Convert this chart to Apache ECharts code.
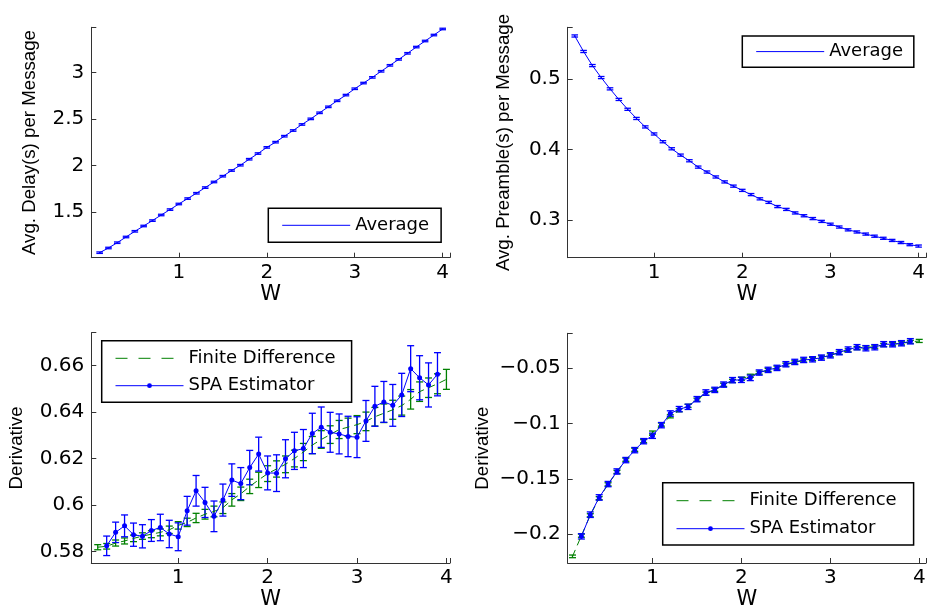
<!DOCTYPE html>
<html>
<head>
<meta charset="utf-8">
<script src="https://cdn.jsdelivr.net/npm/echarts@6/dist/echarts.min.js"></script>
<style>
  html, body { margin: 0; padding: 0; background: #fff; }
  #main { width: 929px; height: 611px; }
</style>
</head>
<body>
<div id="main"></div>
<script>
// W values of the simulation grid
const wAll = [0.1, 0.2, 0.3, 0.4, 0.5, 0.6, 0.7, 0.8, 0.9, 1.0,
              1.1, 1.2, 1.3, 1.4, 1.5, 1.6, 1.7, 1.8, 1.9, 2.0,
              2.1, 2.2, 2.3, 2.4, 2.5, 2.6, 2.7, 2.8, 2.9, 3.0,
              3.1, 3.2, 3.3, 3.4, 3.5, 3.6, 3.7, 3.8, 3.9, 4.0];
const wSpa = wAll.slice(1, 39); // 0.2 .. 3.9

// top left: average delay
const delayAvg = [1.067, 1.117, 1.174, 1.235, 1.296, 1.353, 1.411, 1.471, 1.529, 1.589,
                  1.647, 1.704, 1.765, 1.825, 1.887, 1.948, 2.005, 2.069, 2.130, 2.196,
                  2.252, 2.316, 2.377, 2.442, 2.502, 2.567, 2.631, 2.696, 2.757, 2.825,
                  2.886, 2.947, 3.012, 3.076, 3.140, 3.205, 3.272, 3.337, 3.401, 3.466];
const delayErr = [0.008, 0.008, 0.008, 0.008, 0.008, 0.008, 0.008, 0.008, 0.008, 0.008,
                  0.008, 0.008, 0.008, 0.008, 0.008, 0.008, 0.008, 0.008, 0.008, 0.008,
                  0.008, 0.008, 0.008, 0.008, 0.008, 0.008, 0.008, 0.008, 0.008, 0.008,
                  0.008, 0.008, 0.008, 0.008, 0.008, 0.008, 0.008, 0.008, 0.008, 0.008];

// top right: average preamble
const preAvg = [0.561, 0.539, 0.519, 0.502, 0.486, 0.471, 0.457, 0.444, 0.432, 0.422,
                0.411, 0.401, 0.392, 0.384, 0.375, 0.368, 0.361, 0.354, 0.348, 0.342,
                0.336, 0.330, 0.325, 0.319, 0.315, 0.310, 0.306, 0.302, 0.298, 0.294,
                0.290, 0.286, 0.283, 0.280, 0.277, 0.274, 0.271, 0.268, 0.265, 0.263];
const preErr = [0.0015, 0.0015, 0.0015, 0.0015, 0.0015, 0.0015, 0.0015, 0.0015, 0.0015, 0.0015,
                0.0015, 0.0015, 0.0015, 0.0015, 0.0015, 0.0015, 0.0015, 0.0015, 0.0015, 0.0015,
                0.0015, 0.0015, 0.0015, 0.0015, 0.0015, 0.0015, 0.0015, 0.0015, 0.0015, 0.0015,
                0.0015, 0.0015, 0.0015, 0.0015, 0.0015, 0.0015, 0.0015, 0.0015, 0.0015, 0.0015];

// bottom left: derivative of delay
const fdDelay = [0.5818, 0.5822, 0.5836, 0.5845, 0.5856, 0.5866, 0.5874, 0.5882, 0.5893, 0.5912,
                 0.5925, 0.5944, 0.5960, 0.5972, 0.5988, 0.6022, 0.6048, 0.6080, 0.6108, 0.6135,
                 0.6155, 0.6175, 0.6200, 0.6228, 0.6258, 0.6282, 0.6303, 0.6325, 0.6335, 0.6346,
                 0.6360, 0.6380, 0.6395, 0.6410, 0.6428, 0.6455, 0.6488, 0.6505, 0.6522, 0.6541];
const fdDelayErr = [0.0011, 0.0012, 0.0013, 0.0013, 0.0014, 0.0014, 0.0015, 0.0015, 0.0016, 0.0016,
                    0.0018, 0.0020, 0.0021, 0.0023, 0.0025, 0.0027, 0.0029, 0.0031, 0.0033, 0.0034,
                    0.0035, 0.0036, 0.0036, 0.0037, 0.0037, 0.0038, 0.0038, 0.0039, 0.0039, 0.0039,
                    0.0040, 0.0040, 0.0040, 0.0041, 0.0041, 0.0042, 0.0042, 0.0042, 0.0043, 0.0043];
const spaDelay = [0.5824, 0.5882, 0.5910, 0.5872, 0.5865, 0.5890, 0.5903, 0.5875, 0.5863, 0.5975,
                  0.6061, 0.6011, 0.5951, 0.6021, 0.6107, 0.6092, 0.6161, 0.6219, 0.6138, 0.6137,
                  0.6199, 0.6233, 0.6243, 0.6308, 0.6335, 0.6313, 0.6306, 0.6295, 0.6292, 0.6362,
                  0.6425, 0.6444, 0.6429, 0.6474, 0.6587, 0.6548, 0.6517, 0.6563];
const spaDelayErr = [0.0042, 0.0044, 0.0047, 0.0050, 0.0050, 0.0047, 0.0057, 0.0059, 0.0060, 0.0062,
                     0.0066, 0.0065, 0.0066, 0.0069, 0.0070, 0.0069, 0.0074, 0.0073, 0.0073, 0.0079,
                     0.0082, 0.0080, 0.0082, 0.0087, 0.0087, 0.0086, 0.0086, 0.0087, 0.0088, 0.0088,
                     0.0086, 0.0088, 0.0090, 0.0093, 0.0099, 0.0095, 0.0095, 0.0093];

// bottom right: derivative of preamble
const fdPre = [-0.2202, -0.2015, -0.1830, -0.1675, -0.1550, -0.1438, -0.1328, -0.1238, -0.1160, -0.1082,
               -0.1010, -0.0935, -0.0880, -0.0840, -0.0785, -0.0730, -0.0695, -0.0650, -0.0615, -0.0595,
               -0.0568, -0.0540, -0.0515, -0.0495, -0.0468, -0.0447, -0.0430, -0.0417, -0.0402, -0.0383,
               -0.0360, -0.0338, -0.0318, -0.0312, -0.0305, -0.0290, -0.0283, -0.0275, -0.0262, -0.0253];
const fdPreErr = [0.0012, 0.0014, 0.0014, 0.0014, 0.0014, 0.0014, 0.0014, 0.0014, 0.0014, 0.0014,
                  0.0014, 0.0014, 0.0014, 0.0014, 0.0014, 0.0014, 0.0014, 0.0014, 0.0014, 0.0014,
                  0.0014, 0.0014, 0.0014, 0.0014, 0.0014, 0.0014, 0.0014, 0.0014, 0.0014, 0.0014,
                  0.0014, 0.0014, 0.0014, 0.0014, 0.0014, 0.0014, 0.0014, 0.0014, 0.0014, 0.0014];
const spaPre = [-0.2021, -0.1825, -0.1669, -0.1548, -0.1434, -0.1331, -0.1241, -0.1160, -0.1111, -0.1015,
                -0.0910, -0.0870, -0.0849, -0.0780, -0.0720, -0.0696, -0.0648, -0.0608, -0.0605, -0.0587,
                -0.0539, -0.0515, -0.0497, -0.0464, -0.0443, -0.0425, -0.0419, -0.0404, -0.0383, -0.0355,
                -0.0331, -0.0310, -0.0319, -0.0310, -0.0283, -0.0283, -0.0274, -0.0256];
const spaPreErr = [0.0024, 0.0025, 0.0025, 0.0024, 0.0024, 0.0024, 0.0024, 0.0024, 0.0024, 0.0024,
                   0.0025, 0.0024, 0.0024, 0.0024, 0.0025, 0.0024, 0.0024, 0.0024, 0.0024, 0.0025,
                   0.0024, 0.0024, 0.0024, 0.0024, 0.0024, 0.0024, 0.0024, 0.0024, 0.0024, 0.0024,
                   0.0024, 0.0024, 0.0024, 0.0024, 0.0024, 0.0024, 0.0024, 0.0024];

const BLUE = '#0000ff';
const GREEN = '#008000';
const TICK_FONT = 'DejaVu Sans';
const NAME_FONT = 'Liberation Sans';

function pts(xs, ys) { return xs.map((x, i) => [x, ys[i]]); }
function bars(xs, ys, es) { return xs.map((x, i) => [x, ys[i], es[i]]); }

// only label the round ticks, not the axis ends
function tickFmt(step) {
  return function (v) {
    const k = Math.round(v / step);
    if (Math.abs(v - k * step) > step * 1e-6) return '';
    return String(parseFloat((k * step).toFixed(4))).replace('-', '\u2212');
  };
}

function errRender(color, capHalf) {
  return function (params, api) {
    const x = api.value(0), y = api.value(1), e = api.value(2);
    const hi = api.coord([x, y + e]);
    const lo = api.coord([x, y - e]);
    const st = { stroke: color, lineWidth: 1.3 };
    return {
      type: 'group',
      children: [
        { type: 'line', shape: { x1: hi[0], y1: hi[1], x2: lo[0], y2: lo[1] }, style: st },
        { type: 'line', shape: { x1: hi[0] - capHalf, y1: hi[1], x2: hi[0] + capHalf, y2: hi[1] }, style: st },
        { type: 'line', shape: { x1: lo[0] - capHalf, y1: lo[1], x2: lo[0] + capHalf, y2: lo[1] }, style: st }
      ]
    };
  };
}

const axisLine = { onZero: false, lineStyle: { color: '#333', width: 1 } };
const axisTick = { inside: true, length: 5, lineStyle: { color: '#333' } };

function xAx(idx, min, max) {
  return {
    type: 'value', gridIndex: idx, min: min, max: max,
    minInterval: 1, maxInterval: 1,
    name: 'W', nameLocation: 'middle', nameGap: 26,
    nameTextStyle: { fontFamily: TICK_FONT, fontSize: 21, color: '#000' },
    axisLine: axisLine, axisTick: axisTick,
    axisLabel: { formatter: tickFmt(1), margin: 5, fontFamily: TICK_FONT, fontSize: 20, color: '#000' },
    splitLine: { show: false }
  };
}

function yAx(idx, min, max, step, name, gap) {
  return {
    type: 'value', gridIndex: idx, min: min, max: max,
    minInterval: step, maxInterval: step,
    name: name, nameLocation: 'middle', nameGap: gap,
    nameTextStyle: { fontFamily: NAME_FONT, fontSize: 18.7, color: '#000' },
    axisLine: axisLine, axisTick: axisTick,
    axisLabel: { formatter: tickFmt(step), margin: 7, fontFamily: TICK_FONT, fontSize: 20, color: '#000' },
    splitLine: { show: false }
  };
}

const legendBase = {
  orient: 'vertical', align: 'left', selectedMode: false,
  itemWidth: 68, itemHeight: 6,
  borderColor: '#000', borderWidth: 1.5, backgroundColor: '#fff',
  textStyle: { fontFamily: TICK_FONT, fontSize: 18, color: '#000' }
};
// plain line entries: hide the dot the legend adds
const noDot = { opacity: 0 };
const thin = { width: 1 };
const thinDash = { width: 1, type: [12, 11] };

const myChart = echarts.init(document.getElementById('main'));
const option = {
  animation: false,
  backgroundColor: '#fff',
  grid: [
    { left: 91.3, right: 479, top: 27.3, bottom: 353.3 },
    { left: 567.7, right: 2.3, top: 27.3, bottom: 353.3 },
    { left: 91.3, right: 479, top: 332.7, bottom: 47.7 },
    { left: 567.7, right: 2.3, top: 333.3, bottom: 47.7 }
  ],
  xAxis: [
    xAx(0, 0.005, 4.083),
    xAx(1, 0.02, 4.084),
    xAx(2, 0.028, 4.04),
    xAx(3, 0.046, 4.076)
  ],
  yAxis: [
    yAx(0, 1.013, 3.484, 0.5, 'Avg. Delay(s) per Message', 52),
    yAx(1, 0.2465, 0.5733, 0.1, 'Avg. Preamble(s) per Message', 54),
    yAx(2, 0.575, 0.6742, 0.02, 'Derivative', 65),
    yAx(3, -0.2262, -0.0184, 0.05, 'Derivative', 75)
  ],
  legend: [
    Object.assign({}, legendBase, {
      left: 268.3, top: 208.3, padding: [8, 12, 8, 13.4],
      data: [{ name: 'Average', itemStyle: noDot, lineStyle: thin }]
    }),
    Object.assign({}, legendBase, {
      left: 742.3, top: 36, padding: [6.6, 10.7, 6.6, 13.4],
      data: [{ name: 'Average', itemStyle: noDot, lineStyle: thin }]
    }),
    Object.assign({}, legendBase, {
      left: 101.7, top: 340.7, padding: [8.6, 16, 7.6, 13.3], itemGap: 9.4,
      data: [{ name: 'Finite Difference', itemStyle: noDot, lineStyle: thinDash },
             { name: 'SPA Estimator', lineStyle: thin }]
    }),
    Object.assign({}, legendBase, {
      left: 662.7, top: 482.7, padding: [9, 17, 7.3, 13.3], itemGap: 10,
      data: [{ name: 'Finite Difference', itemStyle: noDot, lineStyle: thinDash },
             { name: 'SPA Estimator', lineStyle: thin }]
    })
  ],
  series: [
    // top left
    { type: 'custom', name: 'errDelay', xAxisIndex: 0, yAxisIndex: 0,
      renderItem: errRender(BLUE, 3.3), encode: { x: 0, y: 1 }, data: bars(wAll, delayAvg, delayErr) },
    { type: 'line', name: 'Average', xAxisIndex: 0, yAxisIndex: 0, symbol: 'none',
      color: BLUE, lineStyle: { color: BLUE, width: 1 }, data: pts(wAll, delayAvg) },
    // top right
    { type: 'custom', name: 'errPre', xAxisIndex: 1, yAxisIndex: 1,
      renderItem: errRender(BLUE, 3.3), encode: { x: 0, y: 1 }, data: bars(wAll, preAvg, preErr) },
    { type: 'line', name: 'Average', xAxisIndex: 1, yAxisIndex: 1, symbol: 'none',
      color: BLUE, lineStyle: { color: BLUE, width: 1 }, data: pts(wAll, preAvg) },
    // bottom left
    { type: 'line', name: 'Finite Difference', xAxisIndex: 2, yAxisIndex: 2, symbol: 'none',
      color: GREEN, lineStyle: { color: GREEN, width: 1, type: [7, 5] }, data: pts(wAll, fdDelay) },
    { type: 'custom', name: 'errFdDelay', xAxisIndex: 2, yAxisIndex: 2,
      renderItem: errRender(GREEN, 3.5), encode: { x: 0, y: 1 }, data: bars(wAll, fdDelay, fdDelayErr) },
    { type: 'custom', name: 'errSpaDelay', xAxisIndex: 2, yAxisIndex: 2,
      renderItem: errRender(BLUE, 3.5), encode: { x: 0, y: 1 }, data: bars(wSpa, spaDelay, spaDelayErr) },
    { type: 'line', name: 'SPA Estimator', xAxisIndex: 2, yAxisIndex: 2,
      symbol: 'circle', symbolSize: 5, showSymbol: true,
      color: BLUE, itemStyle: { color: BLUE }, lineStyle: { color: BLUE, width: 1 }, data: pts(wSpa, spaDelay) },
    // bottom right
    { type: 'line', name: 'Finite Difference', xAxisIndex: 3, yAxisIndex: 3, symbol: 'none',
      color: GREEN, lineStyle: { color: GREEN, width: 1, type: [7, 5] }, data: pts(wAll, fdPre) },
    { type: 'custom', name: 'errFdPre', xAxisIndex: 3, yAxisIndex: 3,
      renderItem: errRender(GREEN, 3.5), encode: { x: 0, y: 1 }, data: bars(wAll, fdPre, fdPreErr) },
    { type: 'custom', name: 'errSpaPre', xAxisIndex: 3, yAxisIndex: 3,
      renderItem: errRender(BLUE, 3.5), encode: { x: 0, y: 1 }, data: bars(wSpa, spaPre, spaPreErr) },
    { type: 'line', name: 'SPA Estimator', xAxisIndex: 3, yAxisIndex: 3,
      symbol: 'circle', symbolSize: 5, showSymbol: true,
      color: BLUE, itemStyle: { color: BLUE }, lineStyle: { color: BLUE, width: 1 }, data: pts(wSpa, spaPre) }
  ]
};
myChart.setOption(option);
</script>
</body>
</html>
